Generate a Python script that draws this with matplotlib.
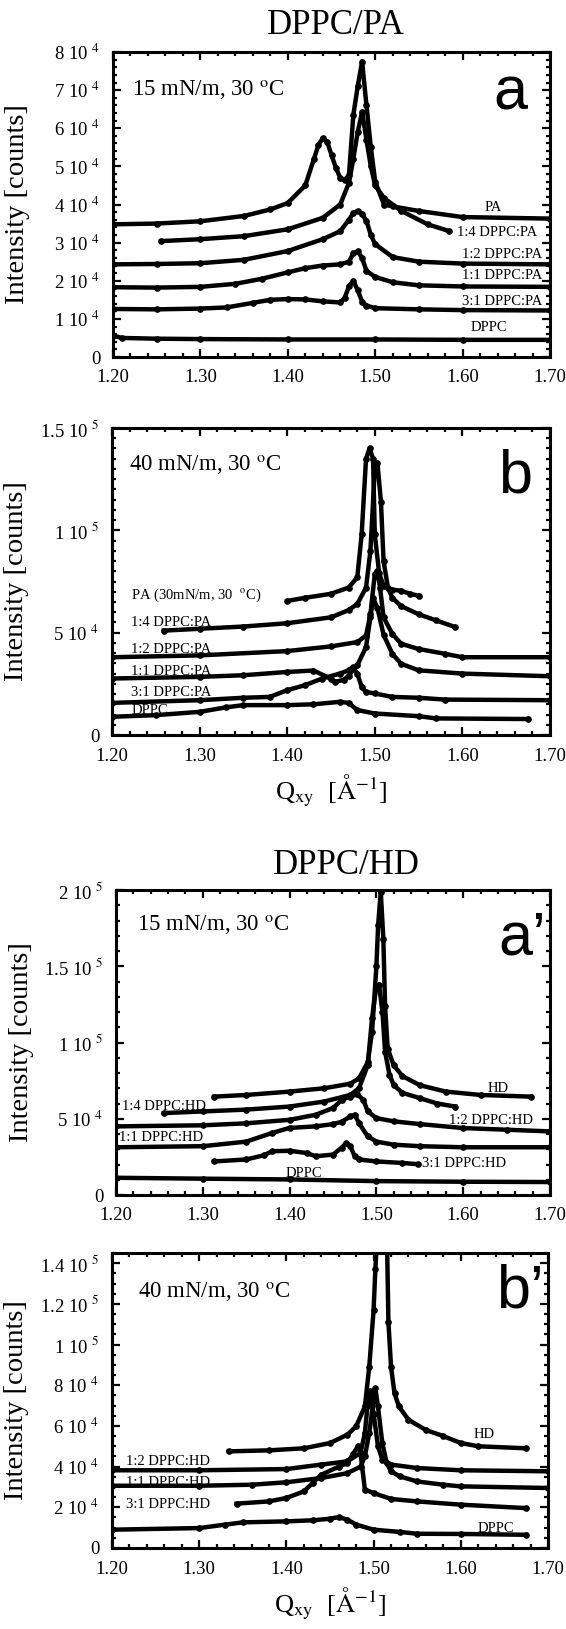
import numpy as np
import matplotlib
matplotlib.use("Agg")
import matplotlib.pyplot as plt
from matplotlib.ticker import MultipleLocator

plt.rcParams['font.family'] = ['Liberation Serif', 'DejaVu Serif']
plt.rcParams['mathtext.fontset'] = 'stix'

# ---- data (intensity in units of 10^4 counts) ----
# panel a : DPPC/PA, 15 mN/m
a_names = ["DPPC", "3:1 DPPC:PA", "1:1 DPPC:PA", "1:2 DPPC:PA", "1:4 DPPC:PA", "PA"]
a_q = [
    [1.20, 1.21, 1.25, 1.30, 1.40, 1.50, 1.60, 1.70],
    [1.20, 1.25, 1.30, 1.33, 1.36, 1.38, 1.40, 1.42, 1.44, 1.46, 1.465, 1.47, 1.475, 1.48, 1.485, 1.49, 1.50, 1.55, 1.60, 1.70],
    [1.20, 1.25, 1.30, 1.34, 1.37, 1.40, 1.42, 1.44, 1.46, 1.47, 1.475, 1.48, 1.485, 1.49, 1.50, 1.52, 1.55, 1.60, 1.70],
    [1.20, 1.25, 1.30, 1.35, 1.40, 1.44, 1.46, 1.47, 1.475, 1.48, 1.485, 1.49, 1.495, 1.50, 1.52, 1.55, 1.60, 1.70],
    [1.255, 1.30, 1.35, 1.40, 1.44, 1.46, 1.47, 1.475, 1.48, 1.485, 1.49, 1.495, 1.50, 1.51, 1.53, 1.56, 1.585],
    [1.20, 1.25, 1.30, 1.35, 1.38, 1.40, 1.42, 1.43, 1.435, 1.44, 1.445, 1.45, 1.455, 1.46, 1.465, 1.47, 1.475, 1.48, 1.485, 1.49, 1.495, 1.50, 1.51, 1.52, 1.55, 1.60, 1.70],
]
a_I = [
    [0.56, 0.50, 0.48, 0.47, 0.46, 0.46, 0.45, 0.45],
    [1.26, 1.25, 1.27, 1.30, 1.42, 1.50, 1.52, 1.51, 1.46, 1.43, 1.55, 1.85, 2.00, 1.75, 1.45, 1.35, 1.28, 1.25, 1.23, 1.22],
    [1.83, 1.82, 1.84, 1.92, 2.05, 2.22, 2.33, 2.40, 2.43, 2.50, 2.72, 2.77, 2.60, 2.26, 2.10, 1.96, 1.88, 1.85, 1.84],
    [2.43, 2.44, 2.46, 2.55, 2.78, 3.09, 3.30, 3.60, 3.78, 3.83, 3.75, 3.57, 3.20, 2.96, 2.62, 2.50, 2.45, 2.43],
    [3.04, 3.09, 3.17, 3.35, 3.65, 4.00, 4.57, 5.20, 5.90, 6.43, 5.70, 5.00, 4.50, 4.17, 3.83, 3.48, 3.30],
    [3.48, 3.50, 3.56, 3.70, 3.87, 4.04, 4.50, 5.20, 5.56, 5.74, 5.65, 5.30, 4.96, 4.70, 4.63, 4.78, 6.35, 7.10, 7.75, 6.60, 5.50, 4.60, 4.00, 3.95, 3.83, 3.67, 3.63],
]
a_lab_xy = [(1.630, 0.78), (1.645, 1.46), (1.645, 2.13), (1.645, 2.70), (1.640, 3.26), (1.635, 3.93)]

# panel b : DPPC/PA, 40 mN/m
b_names = ["DPPC", "3:1 DPPC:PA", "1:1 DPPC:PA", "1:2 DPPC:PA", "1:4 DPPC:PA", "PA (30mN/m, 30  $^{\\rm o}$C)"]
b_q = [
    [1.20, 1.25, 1.30, 1.33, 1.35, 1.40, 1.43, 1.46, 1.47, 1.48, 1.50, 1.55, 1.57, 1.675],
    [1.20, 1.30, 1.35, 1.38, 1.40, 1.42, 1.44, 1.46, 1.47, 1.475, 1.48, 1.485, 1.49, 1.50, 1.52, 1.55, 1.58, 1.70],
    [1.20, 1.30, 1.35, 1.40, 1.43, 1.45, 1.455, 1.465, 1.47, 1.48, 1.49, 1.495, 1.498, 1.503, 1.51, 1.52, 1.53, 1.55, 1.60, 1.70],
    [1.20, 1.30, 1.40, 1.45, 1.48, 1.49, 1.495, 1.50, 1.503, 1.506, 1.51, 1.52, 1.53, 1.55, 1.58, 1.60, 1.70],
    [1.259, 1.30, 1.35, 1.40, 1.45, 1.47, 1.48, 1.49, 1.495, 1.50, 1.503, 1.507, 1.51, 1.515, 1.52, 1.53, 1.55, 1.57, 1.592],
    [1.40, 1.42, 1.45, 1.47, 1.48, 1.485, 1.49, 1.494, 1.498, 1.50, 1.505, 1.51, 1.52, 1.53, 1.54, 1.551],
]
b_I = [
    [0.89, 0.97, 1.13, 1.35, 1.46, 1.46, 1.50, 1.62, 1.57, 1.22, 1.05, 0.92, 0.81, 0.78],
    [1.57, 1.70, 1.82, 1.86, 2.19, 2.43, 2.76, 3.00, 3.16, 3.32, 3.00, 2.35, 2.10, 2.03, 1.86, 1.82, 1.73, 1.70],
    [2.76, 2.84, 2.92, 3.08, 3.15, 2.75, 2.60, 2.70, 2.90, 3.40, 4.30, 5.75, 6.70, 6.20, 4.90, 3.97, 3.48, 3.16, 3.00, 2.87],
    [3.80, 3.89, 4.10, 4.33, 4.54, 4.86, 5.90, 7.86, 8.00, 7.20, 5.75, 4.94, 4.46, 4.20, 3.97, 3.80, 3.80],
    [5.10, 5.19, 5.30, 5.46, 5.75, 6.10, 6.40, 7.20, 9.00, 13.0, 13.3, 11.4, 8.50, 7.20, 6.70, 6.30, 5.90, 5.60, 5.27],
    [6.55, 6.70, 6.90, 7.20, 7.70, 9.80, 13.5, 14.0, 13.5, 9.80, 7.90, 7.30, 7.10, 7.05, 6.90, 6.80],
]
b_lab_xy = [(1.222, 1.20), (1.222, 2.06), (1.222, 3.08), (1.222, 4.20), (1.222, 5.50), (1.222, 6.80)]

# panel a' : DPPC/HD, 15 mN/m
c_names = ["DPPC", "3:1 DPPC:HD", "1:1 DPPC:HD", "1:2 DPPC:HD", "1:4 DPPC:HD", "HD"]
c_q = [
    [1.20, 1.30, 1.40, 1.50, 1.60, 1.70],
    [1.313, 1.35, 1.37, 1.38, 1.40, 1.42, 1.43, 1.45, 1.46, 1.465, 1.47, 1.475, 1.48, 1.50, 1.53, 1.548],
    [1.20, 1.30, 1.35, 1.38, 1.40, 1.43, 1.45, 1.46, 1.47, 1.475, 1.48, 1.49, 1.50, 1.52, 1.55, 1.60, 1.70],
    [1.20, 1.30, 1.35, 1.40, 1.43, 1.45, 1.46, 1.47, 1.478, 1.485, 1.49, 1.50, 1.52, 1.55, 1.60, 1.65, 1.70],
    [1.255, 1.30, 1.35, 1.40, 1.44, 1.47, 1.48, 1.49, 1.495, 1.50, 1.503, 1.507, 1.51, 1.515, 1.52, 1.53, 1.55, 1.57, 1.591],
    [1.313, 1.35, 1.40, 1.44, 1.47, 1.48, 1.49, 1.495, 1.50, 1.502, 1.505, 1.508, 1.51, 1.513, 1.52, 1.53, 1.55, 1.58, 1.62, 1.678],
]
c_I = [
    [1.13, 1.07, 1.02, 0.91, 0.87, 0.85],
    [2.20, 2.33, 2.60, 2.87, 2.90, 2.75, 2.54, 2.65, 3.10, 3.40, 3.20, 2.54, 2.33, 2.20, 2.10, 2.02],
    [3.13, 3.20, 3.50, 4.07, 4.40, 4.50, 4.65, 4.80, 5.15, 5.26, 4.70, 3.85, 3.50, 3.30, 3.20, 3.13, 3.13],
    [4.50, 4.57, 4.70, 4.93, 5.26, 5.70, 6.24, 6.45, 6.60, 6.24, 5.48, 5.04, 4.83, 4.65, 4.39, 4.28, 4.17],
    [5.37, 5.48, 5.60, 5.80, 6.13, 6.56, 7.00, 8.50, 11.6, 13.7, 13.8, 12.0, 9.40, 7.90, 7.20, 6.70, 6.35, 6.00, 5.80],
    [6.45, 6.56, 6.78, 7.00, 7.30, 7.65, 8.70, 10.7, 15.0, 17.7, 19.9, 16.8, 12.4, 9.60, 8.50, 7.80, 7.20, 6.78, 6.56, 6.45],
]
c_lab_xy = [(1.416, 1.39), (1.552, 2.05), (1.203, 3.74), (1.632, 4.90), (1.207, 5.80), (1.640, 7.00)]
c_lab_ha = ["center", "left", "left", "center", "left", "center"]

# panel b' : DPPC/HD, 40 mN/m
d_names = ["DPPC", "3:1 DPPC:HD", "1:1 DPPC:HD", "1:2 DPPC:HD", "HD"]
d_q = [
    [1.20, 1.30, 1.33, 1.35, 1.40, 1.43, 1.45, 1.46, 1.47, 1.48, 1.50, 1.53, 1.55, 1.60, 1.675],
    [1.343, 1.38, 1.40, 1.42, 1.43, 1.44, 1.46, 1.47, 1.476, 1.482, 1.485, 1.49, 1.50, 1.52, 1.55, 1.60, 1.675],
    [1.20, 1.30, 1.36, 1.40, 1.44, 1.47, 1.485, 1.49, 1.495, 1.50, 1.502, 1.505, 1.51, 1.515, 1.52, 1.53, 1.55, 1.58, 1.60, 1.70],
    [1.20, 1.30, 1.40, 1.44, 1.47, 1.485, 1.49, 1.493, 1.496, 1.50, 1.505, 1.51, 1.52, 1.55, 1.60, 1.70],
    [1.334, 1.38, 1.42, 1.45, 1.47, 1.48, 1.49, 1.495, 1.50, 1.502, 1.505, 1.51, 1.515, 1.517, 1.52, 1.524, 1.529, 1.54, 1.56, 1.58, 1.60, 1.62, 1.675],
]
d_I = [
    [0.90, 0.98, 1.15, 1.26, 1.31, 1.36, 1.44, 1.52, 1.39, 1.15, 0.90, 0.79, 0.70, 0.69, 0.65],
    [2.18, 2.29, 2.46, 2.78, 3.19, 3.60, 4.00, 4.17, 4.60, 4.99, 4.67, 2.87, 2.70, 2.41, 2.29, 2.13, 1.96],
    [3.06, 3.06, 3.11, 3.23, 3.44, 3.68, 4.00, 4.50, 5.65, 7.29, 7.86, 6.96, 5.16, 4.18, 3.77, 3.52, 3.27, 3.11, 3.03, 2.95],
    [3.82, 3.82, 3.88, 4.10, 4.26, 4.67, 5.65, 7.00, 7.70, 6.60, 5.00, 4.34, 4.10, 3.93, 3.82, 3.77],
    [4.75, 4.80, 4.90, 5.16, 5.57, 5.98, 6.96, 8.90, 11.7, 13.7, 16.0, 20.0, 16.0, 11.1, 8.90, 7.60, 6.96, 6.30, 5.80, 5.50, 5.16, 5.00, 4.90],
]
d_lab_xy = [(1.640, 0.98), (1.216, 2.13), (1.216, 3.23), (1.216, 4.26), (1.627, 5.57)]
d_lab_ha = ["center", "left", "left", "left", "center"]

# y tick values and their printed labels
a_yt = [0, 1, 2, 3, 4, 5, 6, 7, 8]
a_ytl = ["0"] + ["%d 10 $^{4}$" % v for v in a_yt[1:]]
b_yt = [0, 5, 10, 15]
b_ytl = ["0", "5 10 $^{4}$", "1 10 $^{5}$", "1.5 10 $^{5}$"]
c_yt = [0, 5, 10, 15, 20]
c_ytl = ["0", "5 10 $^{4}$", "1 10 $^{5}$", "1.5 10 $^{5}$", "2 10 $^{5}$"]
d_yt = [0, 2, 4, 6, 8, 10, 12, 14]
d_ytl = ["0", "2 10 $^{4}$", "4 10 $^{4}$", "6 10 $^{4}$", "8 10 $^{4}$",
         "1 10 $^{5}$", "1.2 10 $^{5}$", "1.4 10 $^{5}$"]
xt = [1.2, 1.3, 1.4, 1.5, 1.6, 1.7]
xtl = ["1.20", "1.30", "1.40", "1.50", "1.60", "1.70"]

W, H = 566, 1629
fig = plt.figure(figsize=(W / 100, H / 100), dpi=100)


def box(l, t, r, b):
    return [l / W, 1 - b / H, (r - l) / W, (b - t) / H]


def setup(ax, ymax, yt, ytl, yminor):
    ax.set_xlim(1.2, 1.7)
    ax.set_ylim(0, ymax)
    ax.set_xticks(xt)
    ax.set_xticklabels(xtl, fontsize=13.5)
    ax.set_yticks(yt)
    ax.set_yticklabels(ytl, fontsize=13.5)
    ax.xaxis.set_minor_locator(MultipleLocator(0.02))
    ax.yaxis.set_minor_locator(MultipleLocator(yminor))
    ax.tick_params(which='both', direction='in', top=True, right=True, width=1.6)
    ax.tick_params(which='major', length=6, pad=9)
    ax.tick_params(which='minor', length=3)
    for s in ax.spines.values():
        s.set_linewidth(2.2)
    ax.set_ylabel("Intensity [counts]", fontsize=20.5)
    ax.yaxis.set_label_coords(-0.19, 0.5)


def curves(ax, qs, Is):
    for q, I in zip(qs, Is):
        ax.plot(q, I, color='black', lw=3.2, marker='o', ms=3.8, clip_on=True)


sans = ['Liberation Sans Narrow', 'Liberation Sans', 'DejaVu Sans']

# panel a
ax = fig.add_axes(box(113, 52, 550, 357))
setup(ax, 8, a_yt, a_ytl, 0.2)
curves(ax, a_q, a_I)
for name, (x, y) in zip(a_names, a_lab_xy):
    ax.text(x, y, name, fontsize=10.5, ha='center', va='center')
ax.text(1.222, 7.0, "15 mN/m, 30 $^{\\rm o}$C", fontsize=16.5, va='center')
ax.text(1.655, 6.9, "a", fontsize=44, family=sans, ha='center', va='center')
fig.text(336 / W, 1 - 25 / H, "DPPC/PA", fontsize=25, ha='center', va='center')

# panel b
ax = fig.add_axes(box(112, 428, 550, 735))
setup(ax, 15, b_yt, b_ytl, 0.5)
curves(ax, b_q, b_I)
for name, (x, y) in zip(b_names, b_lab_xy):
    ax.text(x, y, name, fontsize=10.5, ha='left', va='center')
ax.text(1.219, 13.2, "40 mN/m, 30 $^{\\rm o}$C", fontsize=16.5, va='center')
ax.text(1.66, 12.6, "b", fontsize=44, family=sans, ha='center', va='center')
ax.set_xlabel("Q$_{\\rm xy}$  [$\\rm\\AA^{-1}$]", fontsize=19, labelpad=6)

# panel a'
ax = fig.add_axes(box(116, 890, 550, 1195))
setup(ax, 20, c_yt, c_ytl, 1.0)
curves(ax, c_q, c_I)
for name, (x, y), ha in zip(c_names, c_lab_xy, c_lab_ha):
    ax.text(x, y, name, fontsize=10.5, ha=ha, va='center')
ax.text(1.224, 17.7, "15 mN/m, 30 $^{\\rm o}$C", fontsize=16.5, va='center')
ax.text(1.668, 16.8, "a\u2019", fontsize=44, family=sans, ha='center', va='center')
fig.text(346 / W, 1 - 866 / H, "DPPC/HD", fontsize=25, ha='center', va='center')

# panel b'
ax = fig.add_axes(box(112, 1253, 548, 1548))
setup(ax, 14.5, d_yt, d_ytl, 0.5)
curves(ax, d_q, d_I)
for name, (x, y), ha in zip(d_names, d_lab_xy, d_lab_ha):
    ax.text(x, y, name, fontsize=10.5, ha=ha, va='center')
ax.text(1.23, 12.6, "40 mN/m, 30 $^{\\rm o}$C", fontsize=16.5, va='center')
ax.text(1.668, 12.6, "b\u2019", fontsize=44, family=sans, ha='center', va='center')
ax.set_xlabel("Q$_{\\rm xy}$  [$\\rm\\AA^{-1}$]", fontsize=19, labelpad=6)

fig.savefig("out.png", dpi=100)
